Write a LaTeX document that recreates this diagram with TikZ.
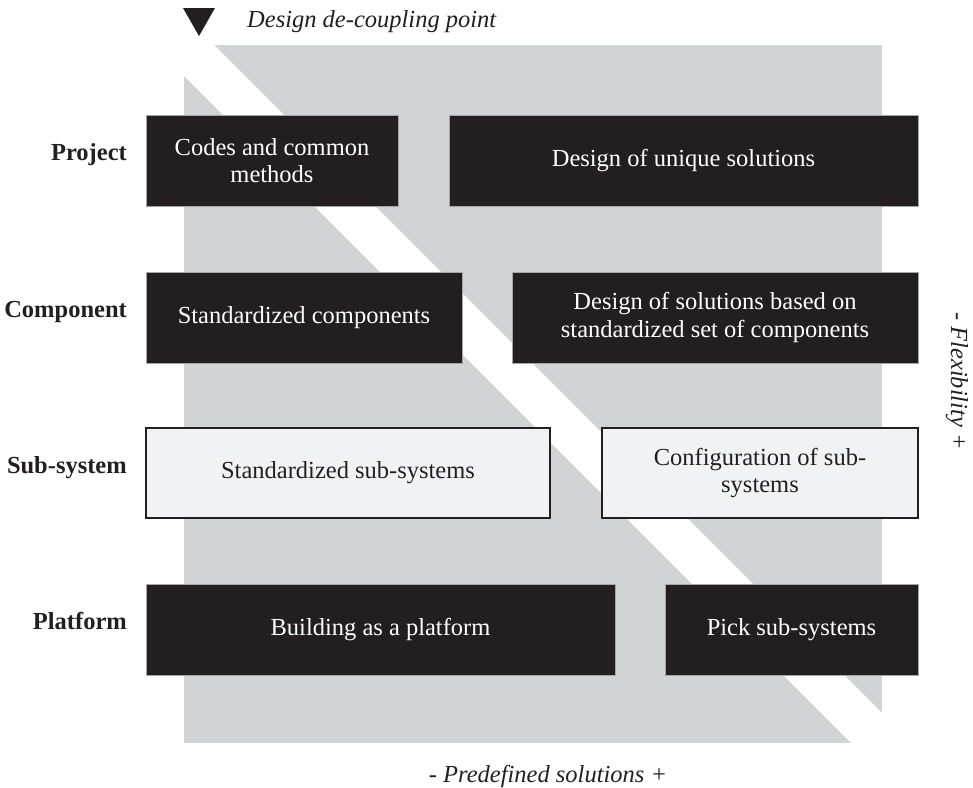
\documentclass[tikz,border=0pt]{standalone}
\usepackage{fontspec}
\setmainfont{Liberation Serif}
\definecolor{boxblack}{HTML}{231F20}
\definecolor{bggray}{HTML}{D1D3D4}
\definecolor{boxlight}{HTML}{F1F2F4}
\newcommand{\diagfont}{\fontsize{24.5}{27.5}\selectfont}
\begin{document}
\begin{tikzpicture}[x=1pt,y=-1pt,
  darkbox/.style={rectangle, fill=boxblack, draw=gray!70, line width=0.6pt, text=white, align=center, inner sep=0pt, font=\diagfont},
  lightbox/.style={rectangle, fill=boxlight, draw=boxblack, line width=1.6pt, text=boxblack, align=center, inner sep=0pt, font=\diagfont},
  rowlabel/.style={anchor=base east, font=\bfseries\diagfont, text=boxblack, inner sep=0pt},
  axislabel/.style={font=\itshape\diagfont, text=boxblack, inner sep=0pt}]
\useasboundingbox (0,0) rectangle (973,787);
% background square and white band
\fill[bggray] (184,45) rectangle (882,743);
\begin{scope}
  \clip (184,45) rectangle (882,743);
  \fill[white] (8,-100) -- (69,-100) -- (1069,900) -- (1008,900) -- cycle;
\end{scope}
% de-coupling marker
\coordinate (tri) at (199,8);
\fill[boxblack] (183,8) -- (215,8) -- (199,36) -- cycle;
\node[axislabel, anchor=base west] (dcp) at (247,27) {Design de-coupling point};
% row labels
\node[rowlabel] (lproject) at (127,160.5) {Project};
\node[rowlabel] (lcomp) at (127,317.5) {Component};
\node[rowlabel] (lsub) at (127,473) {Sub-system};
\node[rowlabel] (lplat) at (127,629.5) {Platform};
% boxes
\node[darkbox, minimum width=252pt, minimum height=91pt] (p1) at (272,160.5) {Codes and common\\methods};
\node[darkbox, minimum width=469pt, minimum height=91pt] (p2) at (683.5,160.5) {Design of unique solutions};
\node[darkbox, minimum width=316pt, minimum height=91pt] (c1) at (304,317.5) {Standardized components};
\node[darkbox, minimum width=406pt, minimum height=91pt] (c2) at (715,317.5) {Design of solutions based on\\standardized set of components};
\node[lightbox, minimum width=404pt, minimum height=90pt] (s1) at (348,473) {Standardized sub-systems};
\node[lightbox, minimum width=316pt, minimum height=90pt] (s2) at (760,473) {Configuration of sub-\\systems};
\node[darkbox, minimum width=469pt, minimum height=91pt] (b1) at (380.5,629.5) {Building as a platform};
\node[darkbox, minimum width=253pt, minimum height=91pt] (b2) at (791.5,629.5) {Pick sub-systems};
% axis labels
\node[axislabel, anchor=base] (pred) at (548,782) {- Predefined solutions +};
\node[axislabel, rotate=-90] (flex) at (957,381) {- Flexibility +};
\end{tikzpicture}
\end{document}
